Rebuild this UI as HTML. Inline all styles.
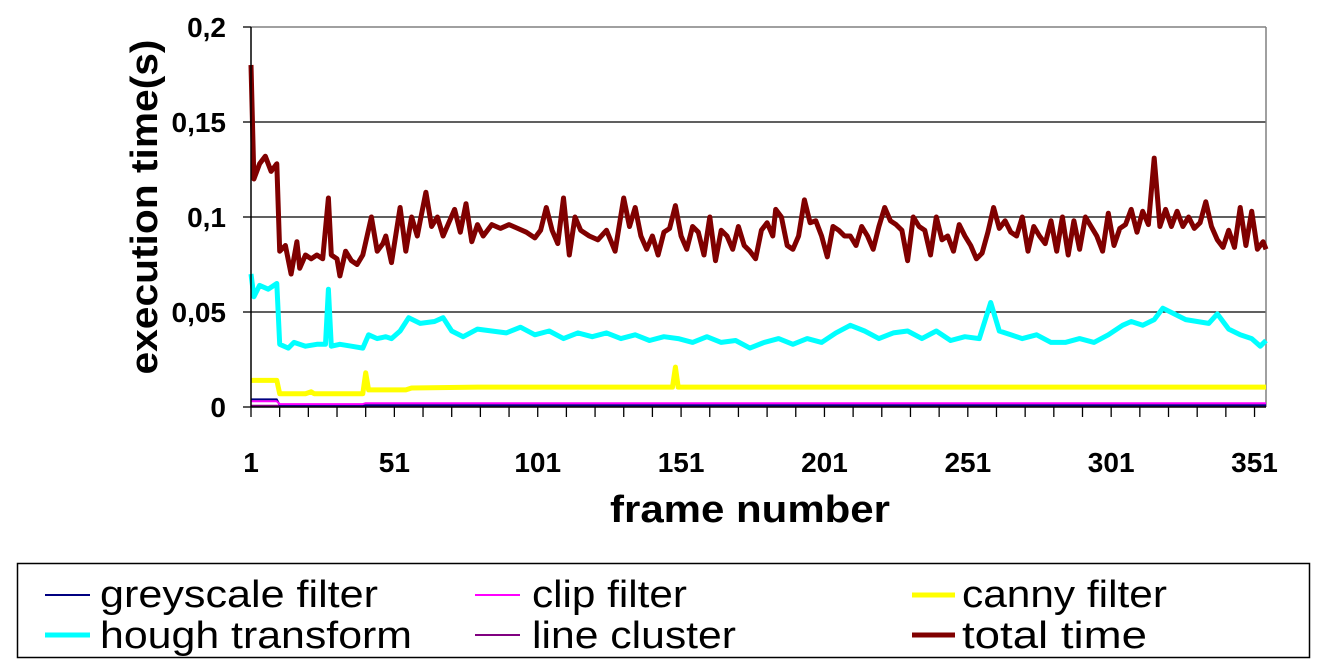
<!DOCTYPE html>
<html><head><meta charset="utf-8"><style>
body{margin:0;background:#fff;}
svg{display:block;font-family:"Liberation Sans",Arial,sans-serif;}
</style></head><body>
<svg id="chart" width="1320" height="669" viewBox="0 0 1320 669" xmlns="http://www.w3.org/2000/svg">
<g id="grid"></g>
<g id="series"></g>
<g id="axes"></g>
<text transform="translate(157,207) rotate(-90)" text-anchor="middle" font-size="38" font-weight="bold" textLength="335" lengthAdjust="spacingAndGlyphs">execution time(s)</text>
<text x="750" y="522" text-anchor="middle" font-size="38" font-weight="bold" textLength="280" lengthAdjust="spacingAndGlyphs">frame number</text>
<g>
<rect x="17.5" y="563.5" width="1292" height="94" fill="#fff" stroke="#000" stroke-width="1.5"/>
<g><line x1="45" y1="595" x2="90" y2="595" stroke="#000080" stroke-width="2"/><text x="100" y="607" font-size="38" textLength="278" lengthAdjust="spacingAndGlyphs">greyscale filter</text></g>
<g><line x1="475" y1="595" x2="520" y2="595" stroke="#ff00ff" stroke-width="2"/><text x="532" y="607" font-size="38" textLength="155" lengthAdjust="spacingAndGlyphs">clip filter</text></g>
<g><line x1="912" y1="595" x2="955" y2="595" stroke="#ffff00" stroke-width="5"/><text x="962" y="607" font-size="38" textLength="205" lengthAdjust="spacingAndGlyphs">canny filter</text></g>
<g><line x1="45" y1="635" x2="90" y2="635" stroke="#00ffff" stroke-width="5"/><text x="100" y="648" font-size="38" textLength="312" lengthAdjust="spacingAndGlyphs">hough transform</text></g>
<g><line x1="475" y1="635" x2="520" y2="635" stroke="#800080" stroke-width="2"/><text x="532" y="648" font-size="38" textLength="204" lengthAdjust="spacingAndGlyphs">line cluster</text></g>
<g><line x1="912" y1="635" x2="955" y2="635" stroke="#800000" stroke-width="5"/><text x="962" y="648" font-size="38" textLength="185" lengthAdjust="spacingAndGlyphs">total time</text></g>
</g>
</svg>
<script>
const yTicks=[0,0.05,0.1,0.15,0.2];
const yTickLabels=["0","0,05","0,1","0,15","0,2"];
const xTickLabels=[1,51,101,151,201,251,301,351];
const totalFrames=[1,2,4,6,8,10,11,13,15,17,18,20,22,24,26,28,29,31,32,34,36,38,40,43,45,47,48,50,53,55,57,59,60,62,64,66,68,70,72,74,76,78,80,82,85,88,91,94,97,100,102,104,106,108,110,112,114,116,119,122,125,128,131,133,135,137,139,141,143,145,147,149,151,153,155,157,159,161,163,165,167,169,171,173,175,177,179,181,183,184,186,188,190,192,194,196,198,200,202,204,206,208,210,212,214,216,218,220,222,224,226,228,230,232,234,236,238,240,242,244,246,248,250,252,254,256,258,260,262,264,266,268,270,272,274,276,278,280,282,284,286,288,290,292,294,296,298,300,302,304,306,308,310,312,314,316,318,320,322,324,326,328,330,332,334,336,338,340,342,344,346,348,350,352,354,355];
const totalValues=[.18,.12,.128,.132,.124,.128,.082,.085,.07,.087,.073,.08,.078,.08,.078,.11,.08,.078,.069,.082,.077,.075,.08,.1,.082,.086,.09,.076,.105,.082,.1,.09,.098,.113,.095,.1,.09,.097,.104,.092,.107,.087,.096,.09,.096,.094,.096,.094,.092,.089,.093,.105,.093,.086,.11,.08,.1,.093,.09,.088,.093,.082,.11,.095,.105,.09,.083,.09,.08,.092,.094,.106,.09,.083,.095,.092,.08,.1,.077,.093,.09,.083,.095,.085,.082,.078,.093,.097,.09,.104,.1,.085,.083,.09,.109,.097,.098,.09,.079,.095,.093,.09,.09,.085,.095,.09,.083,.095,.105,.098,.096,.093,.077,.1,.095,.093,.08,.1,.088,.09,.082,.096,.09,.085,.078,.081,.092,.105,.094,.098,.092,.09,.1,.082,.095,.09,.086,.098,.082,.1,.08,.098,.083,.1,.095,.09,.082,.102,.085,.094,.096,.104,.092,.103,.096,.131,.095,.104,.095,.103,.095,.1,.094,.097,.108,.095,.088,.084,.093,.084,.105,.085,.103,.083,.087,.083];
const houghFrames=[1,2,4,7,10,11,14,16,20,24,27,28,29,32,36,40,42,45,48,50,53,56,60,65,68,71,75,80,85,90,95,100,105,110,115,120,125,130,135,140,145,150,155,160,165,170,175,180,185,190,195,200,205,210,215,220,225,230,235,240,245,250,255,259,262,266,270,275,280,285,290,295,300,305,308,312,316,319,323,327,331,335,338,342,346,350,353,355];
const houghValues=[.07,.058,.064,.062,.065,.033,.031,.034,.032,.033,.033,.062,.032,.033,.032,.031,.038,.036,.037,.036,.04,.047,.044,.045,.047,.04,.037,.041,.04,.039,.042,.038,.04,.036,.039,.037,.039,.036,.038,.035,.037,.036,.034,.037,.034,.035,.031,.034,.036,.033,.036,.034,.039,.043,.04,.036,.039,.04,.036,.04,.035,.037,.036,.055,.04,.038,.036,.038,.034,.034,.036,.034,.038,.043,.045,.043,.046,.052,.049,.046,.045,.044,.049,.041,.038,.036,.032,.035];
const cannyFrames=[1,10,11,20,22,23,40,41,42,55,57,80,148,149,150,355];
const cannyValues=[.014,.014,.007,.007,.008,.007,.007,.018,.009,.009,.01,.0105,.0105,.021,.0105,.0105];
const clipFrames=[1,10,11,40,41,355];
const clipValues=[.003,.003,.0015,.0015,.002,.002];
const greyFrames=[1,10,11,355];
const greyValues=[.004,.004,.001,.001];
const clusterFrames=[1,355];
const clusterValues=[.0007,.0007];

const L=251,R=1266,T=27,B=407,N=355;
const NS="http://www.w3.org/2000/svg";
function xScale(f){return L+(f-1)*(R-L)/(N-1);}
function yScale(v){return B-(v/0.2)*(B-T);}
function mk(tag,attrs,parent){const e=document.createElementNS(NS,tag);for(const k in attrs)e.setAttribute(k,attrs[k]);parent.appendChild(e);return e;}
const gridG=document.getElementById('grid'),axesG=document.getElementById('axes'),seriesG=document.getElementById('series');
yTicks.forEach((v,i)=>{
  const y=yScale(v);
  if(v>0&&v<0.2){const g=mk('line',{x1:L,x2:R,y1:y,y2:y,stroke:'#000','stroke-width':1.3},gridG);
  
  }
  const t=mk('line',{x1:L-8,x2:L,y1:y,y2:y,stroke:'#000','stroke-width':1.3},axesG);
  
  
  const lb=mk('text',{x:226,y:y+10,'text-anchor':'end','font-size':28,'font-weight':'bold'},axesG);
  lb.textContent=yTickLabels[i];
  
  
});
const topBorder=mk('line',{x1:L,x2:R,y1:T,y2:T,stroke:'#808080','stroke-width':1.5},gridG);


const rightBorder=mk('line',{x1:R,x2:R,y1:T,y2:B,stroke:'#808080','stroke-width':1.5},gridG);


for(let f=1;f<=N;f+=10){
  const x=xScale(f);
  const t=mk('line',{x1:x,x2:x,y1:B,y2:B+10,stroke:'#000','stroke-width':1.3},axesG);
  
  
}
xTickLabels.forEach(f=>{
  const lb=mk('text',{x:xScale(f),y:472,'text-anchor':'middle','font-size':28,'font-weight':'bold'},axesG);
  lb.textContent=String(f);
  
  
});
function drawLine(frames,values,color,w,name){
  const d=frames.map((f,i)=>(i?'L':'M')+xScale(f).toFixed(1)+' '+yScale(values[i]).toFixed(1)).join(' ');
  const p=mk('path',{d:d,fill:'none',stroke:color,'stroke-width':w,'stroke-linejoin':'round'},seriesG);
  
  
}
drawLine(clusterFrames,clusterValues,'#800080',2,'line-cluster-line');
drawLine(greyFrames,greyValues,'#000080',2,'greyscale-filter-line');
drawLine(clipFrames,clipValues,'#ff00ff',2,'clip-filter-line');
drawLine(cannyFrames,cannyValues,'#ffff00',5,'canny-filter-line');
drawLine(houghFrames,houghValues,'#00ffff',5,'hough-transform-line');
drawLine(totalFrames,totalValues,'#800000',5,'total-time-line');
const xAxisLine=mk('line',{x1:L,x2:R,y1:B,y2:B,stroke:'#000','stroke-width':1.5},axesG);


const yAxisLine=mk('line',{x1:L,x2:L,y1:T,y2:B,stroke:'#000','stroke-width':1.5},axesG);


</script>
</body></html>
